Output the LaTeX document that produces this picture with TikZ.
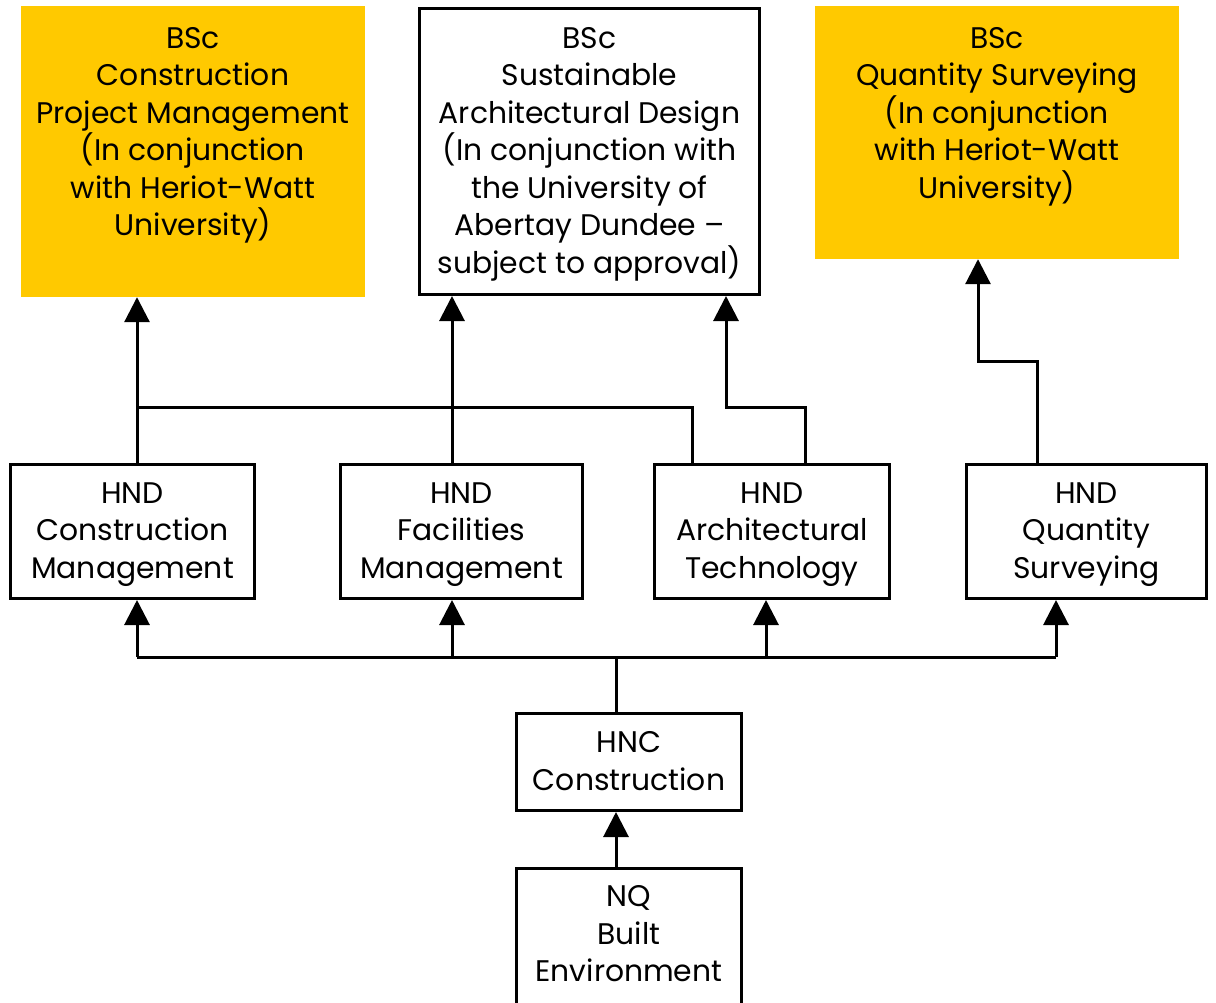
\documentclass[tikz,border=0pt]{standalone}
\usepackage{fontspec}
\setmainfont{Poppins}
\usetikzlibrary{arrows.meta,calc}
\definecolor{gold}{HTML}{FFC900}
\begin{document}
\begin{tikzpicture}[x=1pt,y=-1pt,
  txt/.style={align=center, inner sep=0pt, font=\fontsize{29.8}{37.5}\selectfont, text depth=9.5pt},
  l7/.style={text height=253pt},
  l6/.style={text height=215.5pt},
  l3/.style={text height=103pt},
  l2/.style={text height=65.5pt},
  box/.style={txt, draw=black, line width=3pt, fill=white},
  gbox/.style={txt, fill=gold},
  link/.style={line width=3pt},
  arr/.style={link, -{Triangle[width=25pt,length=25pt]}}]
\useasboundingbox (0,0) rectangle (1216,1002);
% top row
\node[gbox, l7, minimum width=344pt, minimum height=291pt] (cpm) at (193,151.5)
  {BSc\\Construction\\Project Management\\(In conjunction\\with Heriot-Watt\\University)\\\mbox{}};
\node[box, l7, minimum width=340pt, minimum height=286pt] (sad) at (589.5,151.5)
  {BSc\\Sustainable\\Architectural Design\\(In conjunction with\\the University of\\Abertay Dundee --\\subject to approval)};
\node[gbox, l6, minimum width=364pt, minimum height=253pt] (qs) at (997,132.5)
  {BSc\\Quantity Surveying\\(In conjunction\\with Heriot-Watt\\University)\\\mbox{}};
% HND row
\node[box, l3, minimum width=244pt, minimum height=134pt] (hcm) at (132.5,531.5)
  {HND\\Construction\\Management};
\node[box, l3, minimum width=242pt, minimum height=134pt] (hfm) at (461.5,531.5)
  {HND\\Facilities\\Management};
\node[box, l3, minimum width=235pt, minimum height=134pt] (hat) at (772,531.5)
  {HND\\Architectural\\Technology};
\node[box, l3, minimum width=240pt, minimum height=134pt] (hqs) at (1086.5,531.5)
  {HND\\Quantity\\Surveying};
% lower
\node[box, l2, minimum width=225pt, minimum height=97pt] (hnc) at (629,762)
  {HNC\\Construction};
\node[box, l3, text depth=16.5pt, minimum width=225pt, minimum height=140pt] (nq) at (629,938.5)
  {NQ\\Built\\Environment};
% junction levels
\coordinate (upper) at (0,407);
\coordinate (qsbend) at (0,361);
\coordinate (bus) at (0,657);
% upward links to BSc
\draw[arr] ([xshift=4.5pt]hcm.north) -- ([xshift=4.5pt]hcm.north |- cpm.south);
\draw[link] ([xshift=4.5pt]hcm.north |- upper) -| ([xshift=-80pt]hat.north);
\draw[arr] ([xshift=-9.5pt]hfm.north) -- ([xshift=-9.5pt]hfm.north |- sad.south);
\draw[arr] ([xshift=33pt]hat.north) |- ([xshift=-46pt]hat.north |- upper) -- ([xshift=-46pt]hat.north |- sad.south);
\draw[arr] ([xshift=-49.5pt]hqs.north) |- ([xshift=-108.5pt]hqs.north |- qsbend) -- ([xshift=-108.5pt]hqs.north |- qs.south);
% bus from HNC
\draw[link] ([xshift=-13pt]hnc.north) -- ([xshift=-13pt]hnc.north |- bus);
\draw[link] ([xshift=4.5pt]hcm.south |- bus) -- ([xshift=-30.5pt]hqs.south |- bus);
\draw[arr] ([xshift=4.5pt]hcm.south |- bus) -- ([xshift=4.5pt]hcm.south);
\draw[arr] ([xshift=-9.5pt]hfm.south |- bus) -- ([xshift=-9.5pt]hfm.south);
\draw[arr] ([xshift=-6pt]hat.south |- bus) -- ([xshift=-6pt]hat.south);
\draw[arr] ([xshift=-30.5pt]hqs.south |- bus) -- ([xshift=-30.5pt]hqs.south);
\draw[arr] ([xshift=-13pt]nq.north) -- ([xshift=-13pt]nq.north |- hnc.south);
\end{tikzpicture}
\end{document}
